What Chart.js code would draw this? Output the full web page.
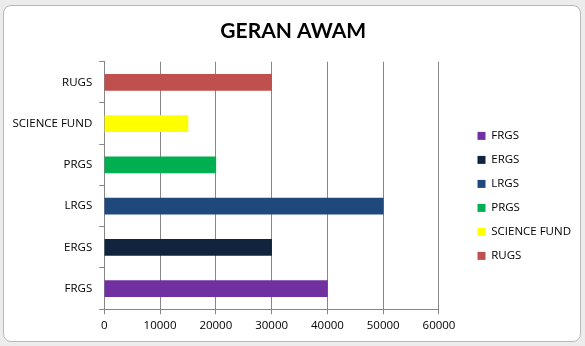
<!DOCTYPE html>
<html>
<head>
<meta charset="utf-8">
<script src="https://cdn.jsdelivr.net/npm/chart.js@4"></script>
<style>
  html, body { margin: 0; padding: 0; background: #ececec; }
  #frame {
    position: absolute; left: 3px; top: 5px; width: 576px; height: 335px;
    background: #fff; border: 1px solid #b9b9b9; border-radius: 8px;
  }
  #wrap { position: absolute; left: 0; top: 0; width: 585px; height: 346px; }
</style>
</head>
<body>
<div id="frame"></div>
<div id="wrap"><canvas id="geranChart"></canvas></div>
<script>
// categories in legend order (FRGS sits at the bottom of the chart)
const categories = ["FRGS", "ERGS", "LRGS", "PRGS", "SCIENCE FUND", "RUGS"];
const values = [40000, 30000, 50000, 20000, 15000, 30000];
const barColors = ["#7030A0", "#10243E", "#1F497D", "#00B050", "#FFFF00", "#C0504D"];
const xTicks = [0, 10000, 20000, 30000, 40000, 50000, 60000];

const axisGrey = "#868686";
const font = { family: "'Open Sans', 'Noto Sans', sans-serif", size: 11.5 };
const GAP = 26; // empty space between plot and legend

// widen the legend box and push its items right, leaving a gap like Excel does
const legendGap = {
    id: "legendGap",
    beforeLayout(chart) {
        const lg = chart.legend;
        if (lg && !lg._gapPatched) {
            const fit = lg.fit;
            lg.fit = function () {
                fit.call(this);
                this.width += GAP;
            };
            lg._gapPatched = true;
        }
    },
    afterLayout(chart) {
        if (chart.legend) chart.legend.left += GAP;
    },
};

const config = {
    type: "bar",
    data: {
        labels: categories,
        datasets: [
            {
                label: "GERAN AWAM",
                data: values,
                backgroundColor: barColors,
                borderWidth: 0,
                barThickness: 16,
            },
        ],
    },
    options: {
        indexAxis: "y",
        responsive: true,
        maintainAspectRatio: false,
        animation: false,
        layout: {
            padding: { left: 5.5, right: 4, top: 6, bottom: 8 },
        },
        scales: {
            x: {
                min: 0,
                max: 60000,
                afterBuildTicks: (axis) => {
                    axis.ticks = xTicks.map((v) => ({ value: v }));
                },
                ticks: {
                    color: "#000",
                    font: font,
                    padding: 5,
                    maxRotation: 0,
                    callback: (v) => String(v),
                },
                grid: { color: axisGrey, tickLength: 5 },
                border: { color: axisGrey },
            },
            y: {
                reverse: true,
                ticks: { color: "#000", font: font, padding: 7 },
                grid: {
                    offset: true,
                    drawOnChartArea: false,
                    color: axisGrey,
                    tickLength: 5,
                },
                border: { color: axisGrey },
            },
        },
        plugins: {
            title: {
                display: true,
                text: "GERAN AWAM",
                color: "#000",
                font: { family: "Lato, 'Open Sans', sans-serif", size: 21, weight: "bold" },
                padding: { top: 13, bottom: 17.5 },
            },
            tooltip: { enabled: false },
            legend: {
                position: "right",
                title: {
                    display: true,
                    text: "",
                    font: font,
                    padding: { top: 3, bottom: 31 },
                },
                labels: {
                    color: "#000",
                    font: font,
                    boxWidth: 8,
                    boxHeight: 8,
                    padding: 12.5,
                    generateLabels: () =>
                        categories.map((c, i) => ({
                            text: c,
                            fillStyle: barColors[i],
                            strokeStyle: barColors[i],
                            fontColor: "#000",
                            lineWidth: 0,
                            index: i,
                            datasetIndex: 0,
                        })),
                },
            },
        },
    },
    plugins: [legendGap],
};

new Chart(document.getElementById("geranChart"), config);
</script>
</body>
</html>
